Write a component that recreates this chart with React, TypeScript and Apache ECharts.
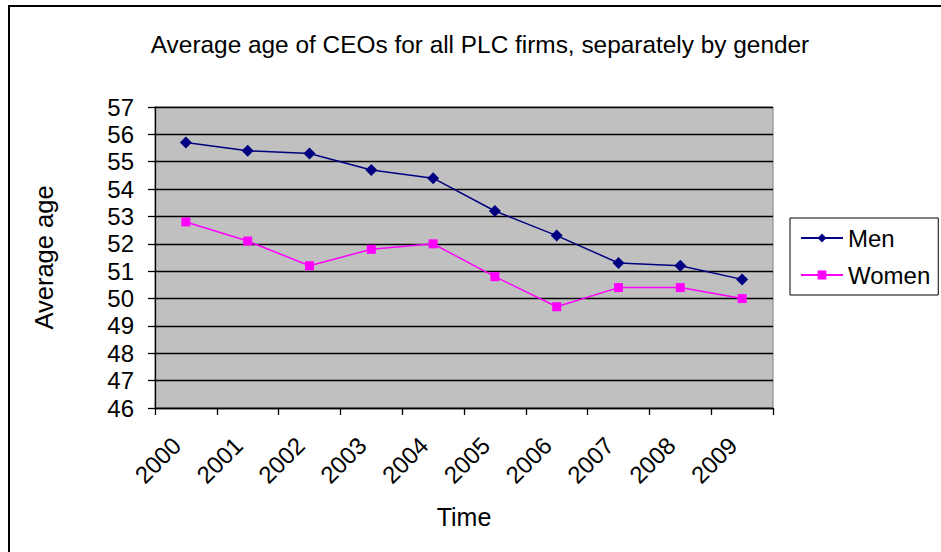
import React, { useEffect, useRef } from "react";
import * as echarts from "echarts";

const years = ["2000", "2001", "2002", "2003", "2004", "2005", "2006", "2007", "2008", "2009"];
const men = [55.7, 55.4, 55.3, 54.7, 54.4, 53.2, 52.3, 51.3, 51.2, 50.7];
const women = [52.8, 52.1, 51.2, 51.8, 52.0, 50.8, 49.7, 50.4, 50.4, 50.0];

const FONT = "Liberation Sans, Arial, sans-serif";

export default function App() {
  const ref = useRef<HTMLDivElement>(null);

  useEffect(() => {
    if (!ref.current) return;
    const chart = echarts.init(ref.current, null, { renderer: "svg" });
    chart.setOption({
      animation: false,
      backgroundColor: "#ffffff",
      textStyle: { fontFamily: FONT },
      title: {
        text: "Average age of CEOs for all PLC firms, separately by gender",
        left: 475,
        textAlign: "center",
        top: 27,
        textStyle: { fontFamily: FONT, fontSize: 24.4, fontWeight: "normal", color: "#000" },
      },
      graphic: [
        {
          type: "rect",
          shape: { x: 9, y: 6, width: 1200, height: 1200 },
          style: { fill: "none", stroke: "#000", lineWidth: 2 },
          silent: true,
        },
      ],
      legend: {
        orient: "vertical",
        left: 790,
        top: 218,
        padding: [8, 8, 8, 10],
        itemGap: 13,
        itemWidth: 42,
        itemHeight: 11,
        itemTextGap: 7,
        borderColor: "#000",
        borderWidth: 1,
        textStyle: { fontFamily: FONT, fontSize: 24, color: "#000" },
        data: ["Men", "Women"],
      },
      grid: {
        left: 155,
        right: 168,
        top: 107,
        bottom: 144,
        show: true,
        backgroundColor: "#c0c0c0",
        borderColor: "#808080",
        borderWidth: 1,
      },
      xAxis: {
        type: "category",
        data: years,
        boundaryGap: true,
        name: "Time",
        nameLocation: "middle",
        nameGap: 96,
        nameTextStyle: { fontFamily: FONT, fontSize: 25, color: "#000" },
        axisLine: { lineStyle: { color: "#000", width: 1.3 } },
        axisTick: { show: true, length: 7, lineStyle: { color: "#000", width: 1.3 } },
        axisLabel: {
          rotate: 45,
          fontSize: 24,
          color: "#000",
          fontFamily: FONT,
          margin: 24,
          padding: [0, 13, 0, 0],
        },
        splitLine: { show: false },
      },
      yAxis: {
        type: "value",
        min: 46,
        max: 57,
        interval: 1,
        name: "Average age",
        nameLocation: "middle",
        nameGap: 98,
        nameTextStyle: { fontFamily: FONT, fontSize: 25.5, color: "#000" },
        axisLine: { show: true, lineStyle: { color: "#000", width: 1.3 } },
        axisTick: { show: true, length: 7, lineStyle: { color: "#000", width: 1.3 } },
        axisLabel: { fontSize: 24, color: "#000", fontFamily: FONT, margin: 21 },
        splitLine: { show: true, lineStyle: { color: "#000", width: 1.3 } },
      },
      series: [
        {
          name: "Men",
          type: "line",
          data: men,
          symbol: "diamond",
          symbolSize: 12,
          color: "#000080",
          lineStyle: { color: "#000080", width: 1.5 },
          itemStyle: { color: "#000080" },
        },
        {
          name: "Women",
          type: "line",
          data: women,
          symbol: "rect",
          symbolSize: 9,
          color: "#ff00ff",
          lineStyle: { color: "#ff00ff", width: 1.5 },
          itemStyle: { color: "#ff00ff" },
        },
      ],
    });
    return () => chart.dispose();
  }, []);

  return <div ref={ref} style={{ width: 941, height: 552, position: "absolute", left: 0, top: 0 }} />;
}
